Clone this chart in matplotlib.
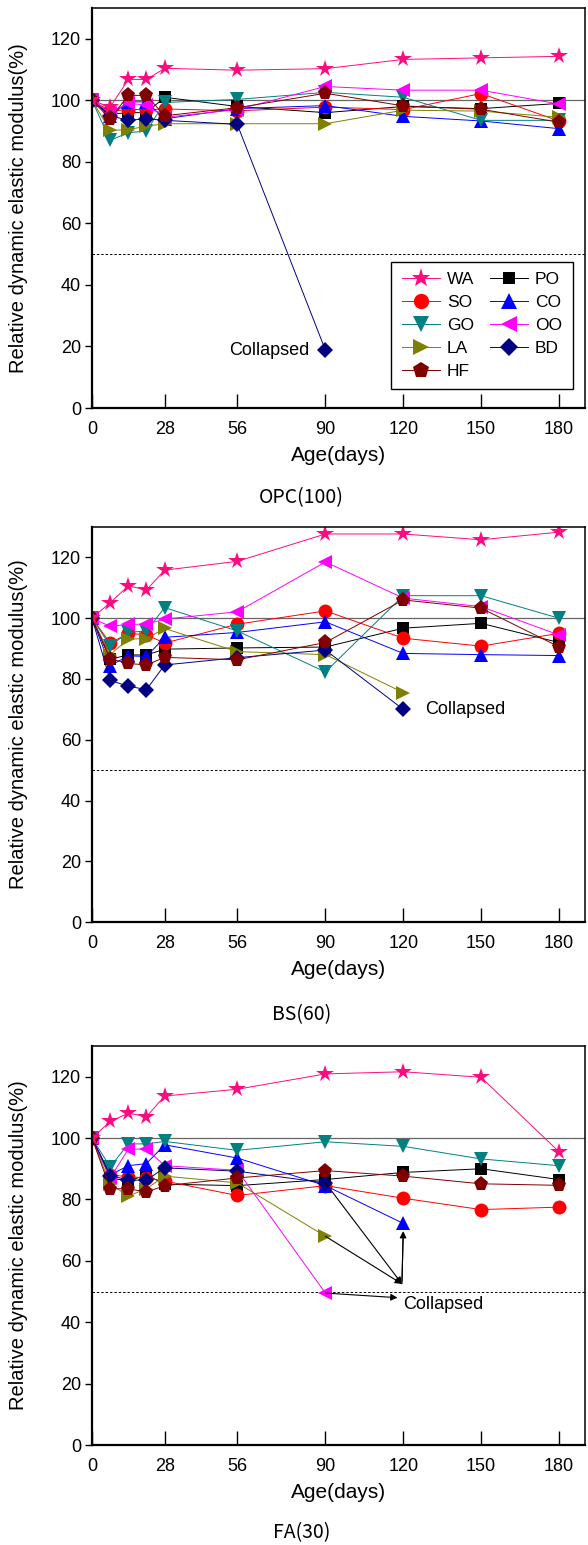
import matplotlib
matplotlib.use('Agg')
import matplotlib.pyplot as plt

plt.rcParams['font.family'] = ['Liberation Sans', 'DejaVu Sans']

# Age of the specimens (days)
days = [0, 7, 14, 21, 28, 56, 90, 120, 150, 180]
xticks = [0, 28, 56, 90, 120, 150, 180]
yticks = [0, 20, 40, 60, 80, 100, 120]

# OPC(100)
opc_wa = [100, 97.8, 106.8, 106.8, 110.4, 109.8, 110.3, 113.3, 113.8, 114.3]
opc_so = [100, 96.5, 97, 97, 97.2, 96.6, 97.8, 97, 102.2, 93.3]
opc_go = [100, 87, 89.5, 90, 99.3, 100.3, 102.6, 101, 93.5, 93.5]
opc_la = [100, 90.2, 90.5, 91.6, 92.4, 92.4, 92.4, 96.8, 96.5, 94.5]
opc_hf = [100, 94, 101.6, 101.6, 95, 97.6, 102.3, 98.2, 97.1, 92.9]
opc_po = [100, 95.5, 96, 96, 101, 98, 96, 98, 97.3, 99]
opc_co = [100, 95, 99.5, 99.5, 94, 97.3, 98.3, 94.8, 93.3, 90.8]
opc_oo = [100, 96, 99, 98.5, 94.5, 97, 104.5, 103.3, 103.3, 98.8]
opc_bd = [100, 95, 93.5, 94, 93.5, 92.2, 18.8]

# BS(60)
bs_wa = [100, 105.1, 110.6, 109.3, 115.8, 118.7, 127.7, 127.7, 125.8, 128.3]
bs_so = [100, 91.8, 95, 94.5, 91.8, 98, 102.4, 93.4, 90.8, 95]
bs_go = [100, 90.9, 95.3, 95.8, 103.5, 95.8, 82.3, 107.4, 107.4, 100]
bs_la = [100, 88, 93.1, 93.3, 96.6, 89, 88, 75.5]
bs_hf = [100, 86.6, 85.1, 84.6, 87.1, 86.3, 92, 106, 103.3, 90.6]
bs_po = [100, 86.5, 87.9, 87.9, 89.8, 90.2, 90.5, 96.7, 98.3, 92]
bs_co = [100, 84.4, 87.6, 87.4, 93.7, 95.3, 98.8, 88.4, 88, 87.7]
bs_oo = [100, 97.3, 98, 98, 99.7, 102.1, 118.5, 106.6, 103.8, 94.5]
bs_bd = [100, 79.5, 77.6, 76.5, 84.6, 87, 89.5, 70]

# FA(30)
fa_wa = [100, 105.4, 108.1, 107, 113.7, 115.9, 120.9, 121.6, 119.8, 95.6]
fa_so = [100, 88, 87.4, 87, 86, 81.3, 84.5, 80.4, 76.7, 77.5]
fa_go = [100, 90.6, 98.1, 98.1, 98.9, 96, 98.8, 97.3, 93.2, 91]
fa_la = [100, 85, 81.1, 83.5, 87.6, 85.4, 68]
fa_hf = [100, 83.5, 83.5, 82.4, 84.5, 87, 89.4, 87.6, 85.1, 84.6]
fa_po = [100, 87, 86, 88, 85, 84.5, 86.5, 88.8, 90, 86.5]
fa_co = [100, 88, 91, 91.7, 97.8, 93.5, 84.5, 72.2]
fa_oo = [100, 87, 96.4, 96.4, 91, 89.5, 49.5]
fa_bd = [100, 87.8, 86.3, 86.3, 90.3, 89.2, 85.4]

names = ['WA', 'SO', 'GO', 'LA', 'HF', 'PO', 'CO', 'OO', 'BD']
colors = ['#FF0A7F', '#FF0000', '#008080', '#808000', '#800000',
          '#000000', '#0000FF', '#FF00FF', '#000080']
markers = ['*', 'o', 'v', '>', 'p', 's', '^', '<', 'D']
msizes = [13, 10, 10, 10, 11, 8, 10, 10, 8]
draw_order = ['PO', 'SO', 'CO', 'GO', 'OO', 'LA', 'BD', 'HF', 'WA']

panels = [
    ('OPC(100)', [opc_wa, opc_so, opc_go, opc_la, opc_hf, opc_po, opc_co, opc_oo, opc_bd]),
    ('BS(60)', [bs_wa, bs_so, bs_go, bs_la, bs_hf, bs_po, bs_co, bs_oo, bs_bd]),
    ('FA(30)', [fa_wa, fa_so, fa_go, fa_la, fa_hf, fa_po, fa_co, fa_oo, fa_bd]),
]

# axes boxes in figure fraction (left, bottom, width, height)
boxes = [(0.1565, 0.7359, 0.838, 0.2589),
         (0.1565, 0.4032, 0.838, 0.2557),
         (0.1565, 0.0647, 0.838, 0.2583)]
caption_y = [0.678, 0.343, 0.0078]

fig = plt.figure(figsize=(5.88, 15.45), dpi=100)

axes = []
for k, (title, series) in enumerate(panels):
    ax = fig.add_axes(boxes[k])
    axes.append(ax)
    handles = {}
    for nm in draw_order:
        i = names.index(nm)
        vals = series[i]
        h, = ax.plot(days[:len(vals)], vals, color=colors[i], marker=markers[i],
                     markersize=msizes[i], markeredgewidth=0, linewidth=0.7,
                     label=nm)
        handles[nm] = h
    ax.axhline(100, color='#666666', linewidth=0.9, zorder=0)
    ax.axhline(50, color='black', linewidth=0.7, linestyle=(0, (2.5, 2)), zorder=0)

    ax.set_xlim(0, 190)
    ax.set_ylim(0, 130)
    ax.set_xticks(xticks)
    ax.set_yticks(yticks)
    ax.tick_params(axis='x', direction='in', length=10, width=1, pad=9, labelsize=13)
    ax.tick_params(axis='y', direction='out', length=5, width=1, pad=3, labelsize=13)
    ax.tick_params(top=False, right=False)
    for side in ['left', 'bottom']:
        ax.spines[side].set_linewidth(1.6)
    for side in ['top', 'right']:
        ax.spines[side].set_linewidth(1.1)
    ax.set_xlabel('Age(days)', fontsize=15, labelpad=6)
    ax.set_ylabel('Relative dynamic elastic modulus(%)', fontsize=14.5)
    ax.yaxis.set_label_coords(-0.13, 0.5)
    fig.text(0.513, caption_y[k], title, ha='center', va='center',
             fontsize=14, family=['Noto Sans CJK KR', 'DejaVu Sans'])

    if k == 0:
        leg_handles = [handles[n] for n in names]
        ax.legend(leg_handles, names, ncol=2, loc='lower left',
                  bbox_to_anchor=(0.59, 0.025), fontsize=12.5, frameon=True,
                  fancybox=False, edgecolor='black', framealpha=1,
                  handlelength=2.2, labelspacing=0.45, columnspacing=0.9,
                  handletextpad=0.4, borderpad=0.6, markerscale=1.1)
        ax.get_legend().get_frame().set_linewidth(1.0)

# "Collapsed" notes
axes[0].text(84, 18.8, 'Collapsed', ha='right', va='center', fontsize=13)
axes[1].text(128.5, 70, 'Collapsed', ha='left', va='center', fontsize=13)

ax3 = axes[2]
ax3.text(120, 45.8, 'Collapsed', ha='left', va='center', fontsize=13)
hub = (119.5, 52.5)
arrow = dict(arrowstyle='-|>', color='black', lw=0.8, mutation_scale=10,
             shrinkA=0, shrinkB=0)
ax3.annotate('', xy=hub, xytext=(90, fa_la[6]), arrowprops=arrow)
ax3.annotate('', xy=hub, xytext=(90, fa_bd[6]), arrowprops=arrow)
ax3.annotate('', xy=(120, fa_co[7] - 2.5), xytext=hub, arrowprops=arrow)
ax3.annotate('', xy=hub, xytext=(120, fa_co[7] - 2.5),
             arrowprops=dict(arrowstyle='-', color='black', lw=0.8))
ax3.annotate('', xy=(117.8, 48), xytext=(90, fa_oo[6]), arrowprops=arrow)

fig.savefig('out.png', dpi=100)
